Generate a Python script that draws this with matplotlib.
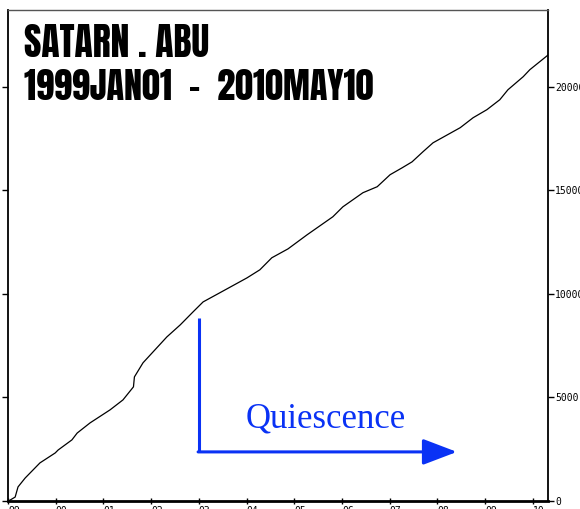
import numpy as np
import matplotlib.pyplot as plt
from matplotlib import font_manager as fm

# === Cumulative event count ===
years = [1999.00, 1999.04, 1999.15, 1999.21, 1999.36, 1999.67, 1999.99, 2000.05,
         2000.34, 2000.45, 2000.72, 2001.14, 2001.41, 2001.63, 2001.65, 2001.83,
         2002.33, 2002.61, 2002.88, 2003.09, 2003.44, 2004.01, 2004.28, 2004.53,
         2004.87, 2005.27, 2005.81, 2006.02, 2006.44, 2006.74, 2007.01, 2007.26,
         2007.47, 2007.70, 2007.91, 2008.48, 2008.75, 2009.04, 2009.31, 2009.48,
         2009.80, 2009.94, 2010.36]
counts = [0, 40, 190, 680, 1110, 1840, 2320, 2460,
          2950, 3280, 3770, 4400, 4880, 5510, 5990, 6670,
          7920, 8500, 9130, 9610, 10050, 10770, 11160, 11740,
          12170, 12850, 13720, 14200, 14880, 15170, 15750, 16080,
          16370, 16860, 17290, 18020, 18500, 18890, 19370, 19850,
          20480, 20820, 21600]

year_ticks = list(range(1999, 2011))
year_labels = ["99", "00", "01", "02", "03", "04", "05", "06", "07", "08", "09", "10"]
count_ticks = [0, 5000, 10000, 15000, 20000]

title_lines = ["SATARN . ABU", "1999JAN01  -  2010MAY10"]
note_text = "Quiescence"

# annotation corner (start of quiescence) and arrow end
q_start, q_end = 2003.0, 2008.41
q_top, q_base = 8840, 2370
blue = "#0a32f5"

# pick an Impact-like condensed face if one is installed
def pick_font(cands):
    for name in cands:
        try:
            fm.findfont(fm.FontProperties(family=name), fallback_to_default=False)
            return name
        except ValueError:
            pass
    return "DejaVu Sans"

title_font = pick_font(["Anton", "League Gothic", "Oswald", "Fjalla One",
                        "Bebas Neue", "Roboto Condensed", "Liberation Sans Narrow"])

fig = plt.figure(figsize=(5.8, 5.09), dpi=100)
ax = fig.add_axes([8/580, 8/509, 540/580, 491/509])

ax.plot(years, counts, color="black", lw=0.9)

ax.set_xlim(1999.0, 2010.32)
ax.set_ylim(0, 23700)

# x ticks: labels left aligned, mostly cut by the figure edge
ax.set_xticks(year_ticks)
ax.set_xticklabels(year_labels, ha="left", family="DejaVu Sans Mono", fontsize=7)
ax.tick_params(axis="x", direction="inout", length=5, width=1, pad=1)

# y ticks on the right with labels, left side ticks only
ax.set_yticks(count_ticks)
ax.set_yticklabels([str(v) for v in count_ticks], family="DejaVu Sans Mono", fontsize=7)
ax.tick_params(axis="y", which="both", left=True, right=True, labelleft=False,
               labelright=True, direction="out", length=4, width=1, pad=1)

for side in ["left", "right"]:
    ax.spines[side].set_linewidth(1.3)
ax.spines["bottom"].set_linewidth(2.0)
ax.spines["top"].set_linewidth(1.0)
ax.spines["top"].set_color("#555555")

# === Title block ===
ax.text(0.03, 0.972, title_lines[0], transform=ax.transAxes, ha="left", va="top",
        family=title_font, fontsize=27)
ax.text(0.03, 0.879, title_lines[1], transform=ax.transAxes, ha="left", va="top",
        family=title_font, fontsize=26)

# === Quiescence annotation ===
ax.plot([q_start, q_start], [q_top, q_base], color=blue, lw=2.2, solid_capstyle="butt")
ax.annotate("", xy=(q_end, q_base), xytext=(q_start - 0.015, q_base),
            arrowprops=dict(arrowstyle="-|>,head_length=1.05,head_width=0.4",
                            color=blue, lw=2.2, mutation_scale=20,
                            shrinkA=0, shrinkB=0))
ax.text(2005.67, 3530, note_text, ha="center", va="baseline", color=blue,
        family=["Liberation Serif", "DejaVu Serif"], fontsize=25)

plt.savefig("out.png", dpi=100)
